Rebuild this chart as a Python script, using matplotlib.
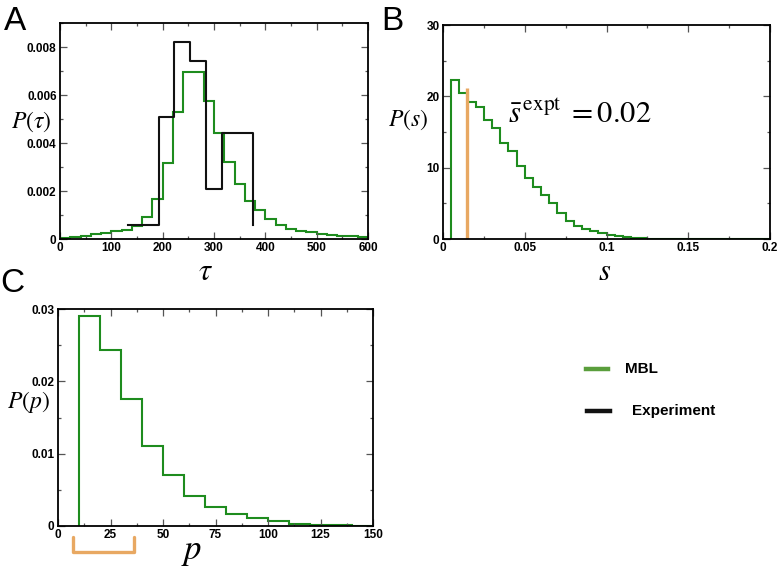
import numpy as np
import matplotlib
matplotlib.use("Agg")
import matplotlib.pyplot as plt
from matplotlib.lines import Line2D
from matplotlib.ticker import MultipleLocator

plt.rcParams["mathtext.fontset"] = "stix"
plt.rcParams["font.family"] = "Liberation Sans"

GREEN, BLACK, ORANGE = "#1e8c1e", "#111111", "#e8a862"

# ---------- data ----------
tau_edges = np.arange(0, 620, 20)
tau_mbl = [0.00003, 0.00008, 0.00014, 0.0002, 0.00026, 0.00033, 0.00039, 0.00055,
           0.00092, 0.00167, 0.00317, 0.0053, 0.00696, 0.00696, 0.00573, 0.0044,
           0.00319, 0.00229, 0.0016, 0.00122, 0.00083, 0.0006, 0.00042, 0.00035,
           0.0003, 0.00021, 0.00017, 0.00014, 0.00011, 0.0001]
tau_exp_edges = [132, 162, 193, 223, 254, 285, 315, 346, 376]
tau_exp = [0.00058, 0.00058, 0.0051, 0.0082, 0.0074, 0.0021, 0.0044, 0.0044, 0.00058]

s_edges = np.round(np.arange(0.005, 0.2001, 0.005), 4)
s_mbl = [22.3, 20.5, 19.26, 18.56, 16.69, 15.6, 13.42, 12.34, 10.24, 8.6,
         7.25, 6.1, 5.05, 3.7, 2.57, 1.87, 1.36, 1.07, 0.79, 0.56,
         0.37, 0.23, 0.15, 0.12, 0.07, 0.05, 0.05, 0.04, 0.03, 0.03,
         0.02, 0.02, 0.02, 0.01, 0.01, 0.01, 0.01, 0.01, 0.01]
s_expt = 0.0148
s_expt_height = 21.2

p_edges = np.arange(10, 160, 10)
p_mbl = [0.0291, 0.0244, 0.0175, 0.0111, 0.0070, 0.00415, 0.00268, 0.00166,
         0.0011, 0.0007, 0.0003, 0.0002, 0.0001, 0.00005]
p_expt_range = (7.1, 36.2)

W, H = 783, 569
fig = plt.figure(figsize=(W / 100, H / 100), dpi=100)


def px_axes(l, t, r, b):
    return fig.add_axes((l / W, 1 - b / H, (r - l) / W, (b - t) / H))


def style(ax, xmaj, xmin, ymaj, ymin):
    ax.xaxis.set_major_locator(MultipleLocator(xmaj))
    ax.xaxis.set_minor_locator(MultipleLocator(xmin))
    ax.yaxis.set_major_locator(MultipleLocator(ymaj))
    ax.yaxis.set_minor_locator(MultipleLocator(ymin))
    ax.tick_params(which="both", direction="in", top=True, right=True, width=0.9, color="#555")
    ax.tick_params(which="major", length=5, pad=2.5)
    ax.tick_params(which="minor", length=2.5)
    for lab in ax.get_xticklabels() + ax.get_yticklabels():
        lab.set_fontweight("bold")
        lab.set_fontsize(8.5)
    for sp in ax.spines.values():
        sp.set_linewidth(1.3)


def ftext(x, y, s, **kw):
    fig.text(x / W, 1 - y / H, s, ha="center", va="center", **kw)


# ---------- A ----------
axA = px_axes(60, 23, 368, 239)
axA.step(tau_exp_edges, tau_exp, where="post", color=BLACK, lw=1.5)
axA.stairs(tau_mbl, tau_edges, baseline=None, color=GREEN, lw=1.5)
axA.set_xlim(0, 600); axA.set_ylim(0, 0.009)
style(axA, 100, 50, 0.002, 0.001)
axA.set_yticks([0, 0.002, 0.004, 0.006, 0.008])
axA.set_yticklabels(["0", "0.002", "0.004", "0.006", "0.008"], fontweight="bold", fontsize=8.5)

# ---------- B ----------
axB = px_axes(443, 25, 770, 239)
axB.stairs(s_mbl, s_edges, baseline=0, color=GREEN, lw=1.5)
axB.plot([s_expt, s_expt], [0, s_expt_height], color=ORANGE, lw=2.4, solid_capstyle="butt")
axB.set_xlim(0, 0.2); axB.set_ylim(0, 30)
style(axB, 0.05, 0.025, 10, 5)
axB.set_xticks([0, 0.05, 0.1, 0.15, 0.2])
axB.set_xticklabels(["0", "0.05", "0.1", "0.15", "0.2"], fontweight="bold", fontsize=8.5)
axB.text(0.2, 0.58, r"$\bar{s}^{\,\mathrm{expt}}\; = 0.02$", transform=axB.transAxes,
         fontsize=22, ha="left", va="center")

# ---------- C ----------
axC = px_axes(58, 309, 373, 526)
axC.stairs(p_mbl, p_edges, baseline=0, color=GREEN, lw=1.5)
axC.set_xlim(0, 150); axC.set_ylim(0, 0.03)
style(axC, 25, 12.5, 0.01, 0.005)
axC.set_yticks([0, 0.01, 0.02, 0.03])
axC.set_yticklabels(["0", "0.01", "0.02", "0.03"], fontweight="bold", fontsize=8.5)
a, b = p_expt_range
axC.plot([a, a, b, b], [-0.05, -0.12, -0.12, -0.05], transform=axC.get_xaxis_transform(),
         color=ORANGE, lw=2.4, clip_on=False, solid_joinstyle="round", solid_capstyle="round")

# ---------- labels ----------
ftext(31, 122, r"$P(\tau)$", fontsize=17)
ftext(408, 120, r"$P(s)$", fontsize=17)
ftext(28, 402, r"$P(p)$", fontsize=17)
ftext(205, 272, r"$\tau$", fontsize=22)
ftext(605, 272, r"$s$", fontsize=22)
ftext(192, 551, r"$p$", fontsize=25)
ftext(15, 22, "A", fontsize=24)
ftext(392, 22, "B", fontsize=24)
ftext(12, 284, "C", fontsize=24)

# ---------- legend ----------
fig.add_artist(Line2D([586 / W, 608 / W], [1 - 369 / H] * 2, color="#5a9e3c", lw=3.2))
fig.add_artist(Line2D([587 / W, 610 / W], [1 - 411 / H] * 2, color=BLACK, lw=3.2))
fig.text(625 / W, 1 - 369 / H, "MBL", fontsize=11, fontweight="bold", va="center")
fig.text(632 / W, 1 - 411 / H, "Experiment", fontsize=11, fontweight="bold", va="center")

fig.savefig("out.png", dpi=100)
